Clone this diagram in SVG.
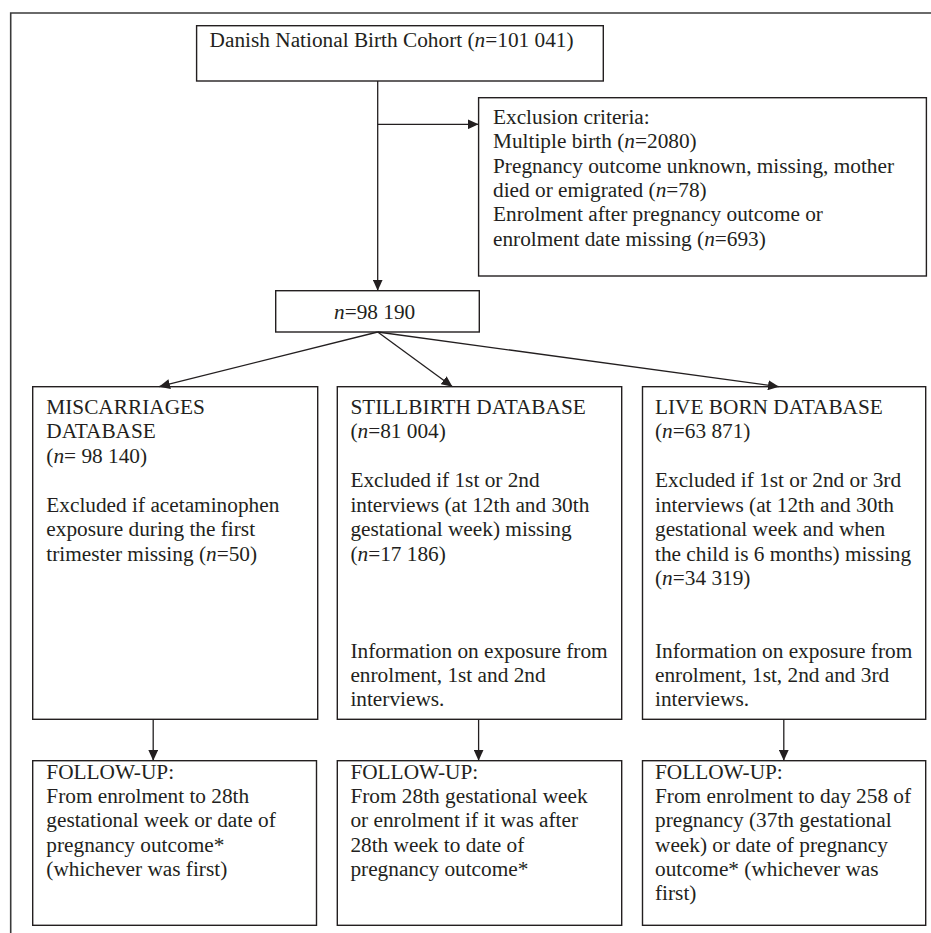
<svg xmlns="http://www.w3.org/2000/svg" width="931" height="933" viewBox="0 0 931 933">
<style>
.bx{fill:#fff;stroke:#231f20;stroke-width:1.4}
.t{font-family:"Liberation Serif","Times New Roman",serif;font-size:21.3px;fill:#231f20}
.i{font-style:italic}
.c{stroke:#231f20;stroke-width:1.3;fill:none}
.fr{stroke:#3a3a3a;stroke-width:1.6;fill:none}
</style>
<defs>
<marker id="ah" markerUnits="userSpaceOnUse" markerWidth="12" markerHeight="10" refX="11" refY="5" orient="auto">
<path d="M0,0 L11,5 L0,10 Z" fill="#231f20"/>
</marker>
</defs>
<rect width="931" height="933" fill="#fff"/>
<path class="fr" d="M10.7,933 V13 H931"/>

<g id="cohort">
<rect class="bx" x="196.6" y="25.7" width="406.7" height="55.3"/>
<text class="t" x="209.6" y="46.5">Danish National Birth Cohort (<tspan class="i">n</tspan>=101 041)</text>
</g>

<g id="exclusion">
<rect class="bx" x="478.6" y="97.7" width="447.8" height="178.3"/>
<text class="t" x="493" y="124">Exclusion criteria:</text>
<text class="t" x="493" y="148.3">Multiple birth (<tspan class="i">n</tspan>=2080)</text>
<text class="t" x="493" y="172.6">Pregnancy outcome unknown, missing, mother</text>
<text class="t" x="493" y="196.9">died or emigrated (<tspan class="i">n</tspan>=78)</text>
<text class="t" x="493" y="221.2">Enrolment after pregnancy outcome or</text>
<text class="t" x="493" y="245.5">enrolment date missing (<tspan class="i">n</tspan>=693)</text>
</g>

<g id="total">
<rect class="bx" x="275.7" y="290.7" width="203.6" height="41.3"/>
<text class="t" x="334" y="318.5"><tspan class="i">n</tspan>=98 190</text>
</g>

<g id="miscarriages">
<rect class="bx" x="32.7" y="386.7" width="285" height="332.6"/>
<text class="t" x="46.3" y="413.5">MISCARRIAGES</text>
<text class="t" x="46.3" y="438">DATABASE</text>
<text class="t" x="46.3" y="462.5">(<tspan class="i">n</tspan>= 98 140)</text>
<text class="t" x="46.3" y="511.5">Excluded if acetaminophen</text>
<text class="t" x="46.3" y="536">exposure during the first</text>
<text class="t" x="46.3" y="560.5">trimester missing (<tspan class="i">n</tspan>=50)</text>
</g>

<g id="stillbirth">
<rect class="bx" x="337.3" y="386.7" width="284.4" height="332.6"/>
<text class="t" x="350.4" y="413.5">STILLBIRTH DATABASE</text>
<text class="t" x="350.4" y="438">(<tspan class="i">n</tspan>=81 004)</text>
<text class="t" x="350.4" y="487">Excluded if 1st or 2nd</text>
<text class="t" x="350.4" y="511.5">interviews (at 12th and 30th</text>
<text class="t" x="350.4" y="536">gestational week) missing</text>
<text class="t" x="350.4" y="560.5">(<tspan class="i">n</tspan>=17 186)</text>
<text class="t" x="350.4" y="658">Information on exposure from</text>
<text class="t" x="350.4" y="682">enrolment, 1st and 2nd</text>
<text class="t" x="350.4" y="706">interviews.</text>
</g>

<g id="liveborn">
<rect class="bx" x="642.5" y="386.7" width="283.2" height="332.6"/>
<text class="t" x="655" y="413.5">LIVE BORN DATABASE</text>
<text class="t" x="655" y="438">(<tspan class="i">n</tspan>=63 871)</text>
<text class="t" x="655" y="487">Excluded if 1st or 2nd or 3rd</text>
<text class="t" x="655" y="511.5">interviews (at 12th and 30th</text>
<text class="t" x="655" y="536">gestational week and when</text>
<text class="t" x="655" y="560.5">the child is 6 months) missing</text>
<text class="t" x="655" y="585">(<tspan class="i">n</tspan>=34 319)</text>
<text class="t" x="655" y="658">Information on exposure from</text>
<text class="t" x="655" y="682">enrolment, 1st, 2nd and 3rd</text>
<text class="t" x="655" y="706">interviews.</text>
</g>

<g id="followup1">
<rect class="bx" x="32.7" y="760.7" width="283.8" height="164.6"/>
<text class="t" x="46.3" y="779">FOLLOW-UP:</text>
<text class="t" x="46.3" y="803.2">From enrolment to 28th</text>
<text class="t" x="46.3" y="827.4">gestational week or date of</text>
<text class="t" x="46.3" y="851.6">pregnancy outcome*</text>
<text class="t" x="46.3" y="875.8">(whichever was first)</text>
</g>

<g id="followup2">
<rect class="bx" x="337.3" y="760.7" width="284.4" height="164.6"/>
<text class="t" x="350.4" y="779">FOLLOW-UP:</text>
<text class="t" x="350.4" y="803.2">From 28th gestational week</text>
<text class="t" x="350.4" y="827.4">or enrolment if it was after</text>
<text class="t" x="350.4" y="851.6">28th week to date of</text>
<text class="t" x="350.4" y="875.8">pregnancy outcome*</text>
</g>

<g id="followup3">
<rect class="bx" x="642.5" y="760.7" width="283.2" height="164.6"/>
<text class="t" x="655" y="779">FOLLOW-UP:</text>
<text class="t" x="655" y="803.2">From enrolment to day 258 of</text>
<text class="t" x="655" y="827.4">pregnancy (37th gestational</text>
<text class="t" x="655" y="851.6">week) or date of pregnancy</text>
<text class="t" x="655" y="875.8">outcome* (whichever was</text>
<text class="t" x="655" y="900">first)</text>
</g>

<g id="connectors">
<line class="c" x1="377.7" y1="81" x2="377.7" y2="290.7" marker-end="url(#ah)"/>
<line class="c" x1="377.7" y1="124.3" x2="478.6" y2="124.3" marker-end="url(#ah)"/>
<line class="c" x1="377.7" y1="332" x2="159" y2="386.7" marker-end="url(#ah)"/>
<line class="c" x1="377.7" y1="332" x2="452.5" y2="386.7" marker-end="url(#ah)"/>
<line class="c" x1="377.7" y1="332" x2="779" y2="386.7" marker-end="url(#ah)"/>
<line class="c" x1="153.2" y1="719.3" x2="153.2" y2="760.7" marker-end="url(#ah)"/>
<line class="c" x1="478.6" y1="719.3" x2="478.6" y2="760.7" marker-end="url(#ah)"/>
<line class="c" x1="783.8" y1="719.3" x2="783.8" y2="760.7" marker-end="url(#ah)"/>
</g>
</svg>
